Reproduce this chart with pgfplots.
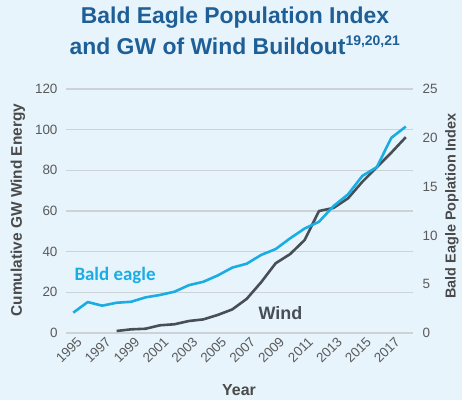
\documentclass[border=0pt]{standalone}
\usepackage{pgfplots}
\pgfplotsset{compat=1.18}
\usepackage{fontspec}
\setmainfont{Liberation Sans}
\newfontfamily\labelfont{Carlito}

\definecolor{bgcol}{HTML}{E7F4FC}
\definecolor{titlecol}{HTML}{1E5F97}
\definecolor{eaglecol}{HTML}{1AADE4}
\definecolor{windcol}{HTML}{484E55}
\definecolor{gridcol}{HTML}{CCD2D6}
\definecolor{tickcol}{HTML}{5A5A5A}
\definecolor{labcol}{HTML}{4A4A4A}

\begin{document}
\begin{tikzpicture}[x=1bp,y=1bp]
\fill[bgcol] (0,0) rectangle (462,400);
\useasboundingbox (0,0) rectangle (462,400);

\pgfplotsset{
  common/.style={
    scale only axis,
    width=347bp, height=244bp,
    at={(66bp,67bp)}, anchor=south west,
    xmin=1994.5, xmax=2018.5,
    axis line style={draw=none},
    tick style={draw=none},
    /pgf/number format/assume math mode=true,
    /pgf/number format/1000 sep={},
    ticklabel style={font=\fontsize{13.5}{15}\selectfont, text=tickcol},
  }
}

% left axis: wind
\begin{axis}[common,
    axis y line*=left,
    ymin=0, ymax=120,
    ytick={0,20,...,120},
    ymajorgrids=true,
    grid style={gridcol, line width=1.2pt},
    xtick={1995,1997,...,2017},
    xticklabel style={rotate=45, anchor=north east, inner sep=1pt, yshift=-3bp, xshift=1bp},
    yticklabel style={xshift=-5bp},
]
\addplot[windcol, line width=2.6pt, line join=round] coordinates {
(1998,1.0)(1999,1.8)(2000,2.1)(2001,3.8)(2002,4.3)(2003,5.9)(2004,6.7)
(2005,8.9)(2006,11.6)(2007,16.8)(2008,25.0)(2009,34.3)(2010,38.8)
(2011,45.7)(2012,60.0)(2013,61.5)(2014,66.2)(2015,74.4)(2016,81.5)
(2017,88.7)(2018,96.3)};
\end{axis}

% right axis: eagle index
\begin{axis}[common,
    axis y line*=right,
    axis x line=none,
    ymin=0, ymax=25,
    ytick={0,5,...,25},
    yticklabel style={xshift=6bp},
]
\addplot[eaglecol, line width=2.6pt, line join=round] coordinates {
(1995,2.08)(1996,3.17)(1997,2.8)(1998,3.1)(1999,3.2)(2000,3.65)
(2001,3.9)(2002,4.23)(2003,4.9)(2004,5.25)(2005,5.9)(2006,6.7)
(2007,7.1)(2008,8.0)(2009,8.6)(2010,9.7)(2011,10.7)(2012,11.4)
(2013,13.0)(2014,14.2)(2015,16.1)(2016,17.0)(2017,20.0)(2018,21.15)};
\end{axis}

% titles and labels
\node[text=titlecol, font=\fontsize{23}{26}\selectfont\bfseries] at (235,382) {Bald Eagle Population Index};
\node[text=titlecol, font=\fontsize{23}{26}\selectfont\bfseries] at (235,355)
  {and GW of Wind Buildout\textsuperscript{\fontsize{14}{15}\selectfont 19,20,21}};
\node[rotate=90, text=labcol, font=\fontsize{15.5}{17}\selectfont\bfseries] at (18,190) {Cumulative GW Wind Energy};
\node[rotate=90, text=labcol, font=\fontsize{14.5}{16}\selectfont\bfseries] at (452,194) {Bald Eagle Poplation Index};
\node[text=labcol, font=\fontsize{16}{18}\selectfont\bfseries] at (239,10) {Year};
\node[text=eaglecol, font=\labelfont\fontsize{19}{21}\selectfont\bfseries, anchor=west] at (71,125) {Bald eagle};
\node[text=windcol, font=\fontsize{18}{21}\selectfont\bfseries, anchor=west] at (255,87) {Wind};
\end{tikzpicture}
\end{document}
